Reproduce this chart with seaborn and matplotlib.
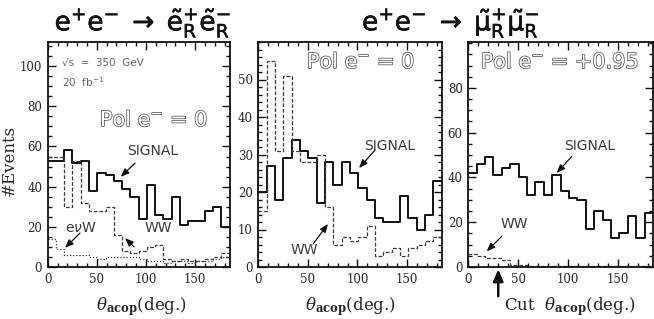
import numpy as np
import pandas as pd
import matplotlib
matplotlib.use("Agg")
import matplotlib.pyplot as plt
import matplotlib.patheffects as pe
from matplotlib.ticker import MultipleLocator
import seaborn as sns

# acoplanarity binning (deg): 22 bins across the frame
N_BINS = 22
ACOP_RANGE = (0, 185)
ACOP_EDGES = np.linspace(ACOP_RANGE[0], ACOP_RANGE[1], N_BINS + 1)
ACOP_CENTERS = 0.5 * (ACOP_EDGES[:-1] + ACOP_EDGES[1:])

# e+e- -> selectron pair, Pol e- = 0
sel_signal = [53, 53, 58, 52, 53, 38, 47, 46, 43, 39, 35, 24, 41, 26, 24, 35, 21, 23, 23, 28, 30, 20]
sel_ww = [55, 55, 30, 53, 32, 28, 28, 30, 16, 8, 7, 8, 10, 11, 4, 3, 4, 3, 3, 4, 5, 7]
sel_enuw = [14, 9, 6, 6, 6, 5, 4, 5, 5, 5, 5, 4, 3, 3, 2, 3, 3, 2, 3, 3, 4, 5]

# e+e- -> smuon pair, Pol e- = 0
smu0_signal = [20, 27, 18, 29, 34, 31, 29, 17, 28, 22, 28, 25, 21, 18, 13, 12, 12, 19, 13, 10, 14, 23]
smu0_ww = [15, 55, 31, 51, 31, 28, 28, 30, 16, 6, 8, 7, 8, 11, 3, 4, 5, 3, 5, 6, 7, 8]

# e+e- -> smuon pair, Pol e- = +0.95
smu95_signal = [42, 46, 49, 41, 44, 46, 40, 32, 38, 32, 41, 34, 31, 30, 17, 25, 21, 13, 15, 23, 13, 24]
smu95_ww = [6, 5, 4, 4, 3, 1, 1, 0.5, 0.5, 0.5, 0.5, 0.3, 0.5, 0.3, 0.5, 0.3, 0.5, 0.3, 0.3, 0.5, 0.3, 0.5]

sns.set_style("ticks")
plt.rcParams["font.family"] = ["DejaVu Sans"]
plt.rcParams["mathtext.fontset"] = "dejavusans"

SERIF = "DejaVu Serif"
INK = "#111111"
GREY = "#3a3a3a"


def step_hist(ax, values, **kw):
    df = pd.DataFrame({"acop": ACOP_CENTERS, "events": values})
    sns.histplot(data=df, x="acop", weights="events", bins=N_BINS,
                 binrange=ACOP_RANGE, element="step", fill=False, ax=ax, **kw)


def style_axes(ax, ymax, yminor, yticks):
    ax.set_xlim(*ACOP_RANGE)
    ax.set_ylim(0, ymax)
    ax.set_yticks(yticks)
    ax.set_xticks([0, 50, 100, 150])
    ax.xaxis.set_minor_locator(MultipleLocator(10))
    ax.yaxis.set_minor_locator(MultipleLocator(yminor))
    ax.tick_params(which="both", direction="in", top=True, right=True,
                   color=INK, width=1.0)
    ax.tick_params(which="major", length=6, pad=4)
    ax.tick_params(which="minor", length=3)
    for lab in ax.get_xticklabels() + ax.get_yticklabels():
        lab.set_fontfamily(SERIF)
        lab.set_fontsize(8.5)
    for sp in ax.spines.values():
        sp.set_visible(True)
        sp.set_linewidth(1.3)
        sp.set_color(INK)
    ax.set_xlabel("")
    ax.set_ylabel("")


def pol_text(ax, x, y, s):
    ax.text(x, y, s, transform=ax.transAxes, ha="center", va="center",
            fontsize=15, color="white",
            path_effects=[pe.withStroke(linewidth=1.1, foreground="#555555")])


def label(ax, x, y, s, size=10):
    ax.text(x, y, s, transform=ax.transAxes, ha="center", va="center",
            fontsize=size, color=GREY)


def arrow(ax, tail, tip):
    ax.annotate("", xy=tip, xytext=tail,
                arrowprops=dict(arrowstyle="-|>,head_width=0.2,head_length=0.5",
                                color=INK, lw=0.9, shrinkA=0, shrinkB=0))


fig = plt.figure(figsize=(6.54, 3.19), dpi=100)
ax1 = fig.add_axes([47.7 / 654, 52 / 319, 181.8 / 654, 225 / 319])
ax2 = fig.add_axes([258.3 / 654, 52 / 319, 183.4 / 654, 225 / 319])
ax3 = fig.add_axes([468.3 / 654, 52 / 319, 184.7 / 654, 225 / 319])

# panel 1: selectrons
step_hist(ax1, sel_signal, color=INK, linewidth=1.4)
step_hist(ax1, sel_ww, color=GREY, linewidth=0.9, linestyle=(0, (3, 1.5)))
step_hist(ax1, sel_enuw, color=GREY, linewidth=0.9, linestyle=(0, (1, 1.5)))
style_axes(ax1, 112, 5, [0, 20, 40, 60, 80, 100])

ax1.text(0.079, 0.909, "√s  =  350  GeV", transform=ax1.transAxes,
         ha="left", va="center", fontsize=7.5, color="#666666")
ax1.text(0.079, 0.824, "20  fb$^{-1}$", transform=ax1.transAxes,
         ha="left", va="center", fontsize=7.5, color="#666666")
pol_text(ax1, 0.585, 0.653, "Pol e$^{-}$ = 0")
label(ax1, 0.58, 0.516, "SIGNAL")
arrow(ax1, (88.9, 51.7), (74.3, 44.9))
label(ax1, 0.183, 0.173, "e$\\nu$W")
arrow(ax1, (32.9, 16.9), (17.6, 9.5))
label(ax1, 0.607, 0.173, "WW")
arrow(ax1, (87.9, 10.0), (78.7, 14.4))

# panel 2: smuons, unpolarised
step_hist(ax2, smu0_signal, color=INK, linewidth=1.4)
step_hist(ax2, smu0_ww, color=GREY, linewidth=0.9, linestyle=(0, (3, 1.5)))
style_axes(ax2, 60, 2, [0, 10, 20, 30, 40, 50])

pol_text(ax2, 0.56, 0.911, "Pol e$^{-}$ = 0")
label(ax2, 0.718, 0.538, "SIGNAL")
arrow(ax2, (117.8, 31.2), (101.6, 26.4))
label(ax2, 0.249, 0.076, "WW")
arrow(ax2, (55.2, 6.1), (70.3, 11.5))

# panel 3: smuons, Pol e- = +0.95
step_hist(ax3, smu95_signal, color=INK, linewidth=1.4)
step_hist(ax3, smu95_ww, color=GREY, linewidth=0.9, linestyle=(0, (3, 1.5)))
style_axes(ax3, 100.5, 5, [0, 20, 40, 60, 80])

pol_text(ax3, 0.496, 0.911, "Pol e$^{-}$ = +0.95")
label(ax3, 0.657, 0.538, "SIGNAL")
arrow(ax3, (103.6, 49.4), (88.6, 42.0))
label(ax3, 0.248, 0.191, "WW")
arrow(ax3, (33.5, 13.7), (18.4, 7.0))

# cut marker under panel 3
ax3.annotate("", xy=(30, -0.01), xycoords=("data", "axes fraction"),
             xytext=(30, -0.13), textcoords=("data", "axes fraction"),
             arrowprops=dict(arrowstyle="-|>,head_width=0.3,head_length=0.7",
                             color=INK, lw=1.8, shrinkA=0, shrinkB=0),
             annotation_clip=False)

# axis titles
xlab = "$\\theta_{\\mathbf{acop}}$(deg.)"
for xc, s in [(142, xlab), (351, xlab), (570, "Cut  " + xlab)]:
    fig.text(xc / 654, 1 - 307 / 319, s, ha="center", va="center",
             fontsize=12, family=SERIF, math_fontfamily="dejavuserif")
fig.text(9 / 654, 1 - 160 / 319, "#Events", rotation=90, ha="center",
         va="center", fontsize=12, family=SERIF)

# process titles
heavy = [pe.withStroke(linewidth=0.4, foreground=INK)]
fig.text(143 / 654, 1 - 23 / 319,
         "$\\mathrm{e^{+}e^{-}}\\;\\rightarrow\\;\\mathrm{\\tilde{e}^{+}_{R}\\tilde{e}^{-}_{R}}$",
         ha="center", va="center", fontsize=19, color=INK, path_effects=heavy)
fig.text(451 / 654, 1 - 23 / 319,
         "$\\mathrm{e^{+}e^{-}}\\;\\rightarrow\\;\\mathrm{\\tilde{\\mu}^{+}_{R}\\tilde{\\mu}^{-}_{R}}$",
         ha="center", va="center", fontsize=19, color=INK, path_effects=heavy)

fig.savefig("out.png", dpi=100)
